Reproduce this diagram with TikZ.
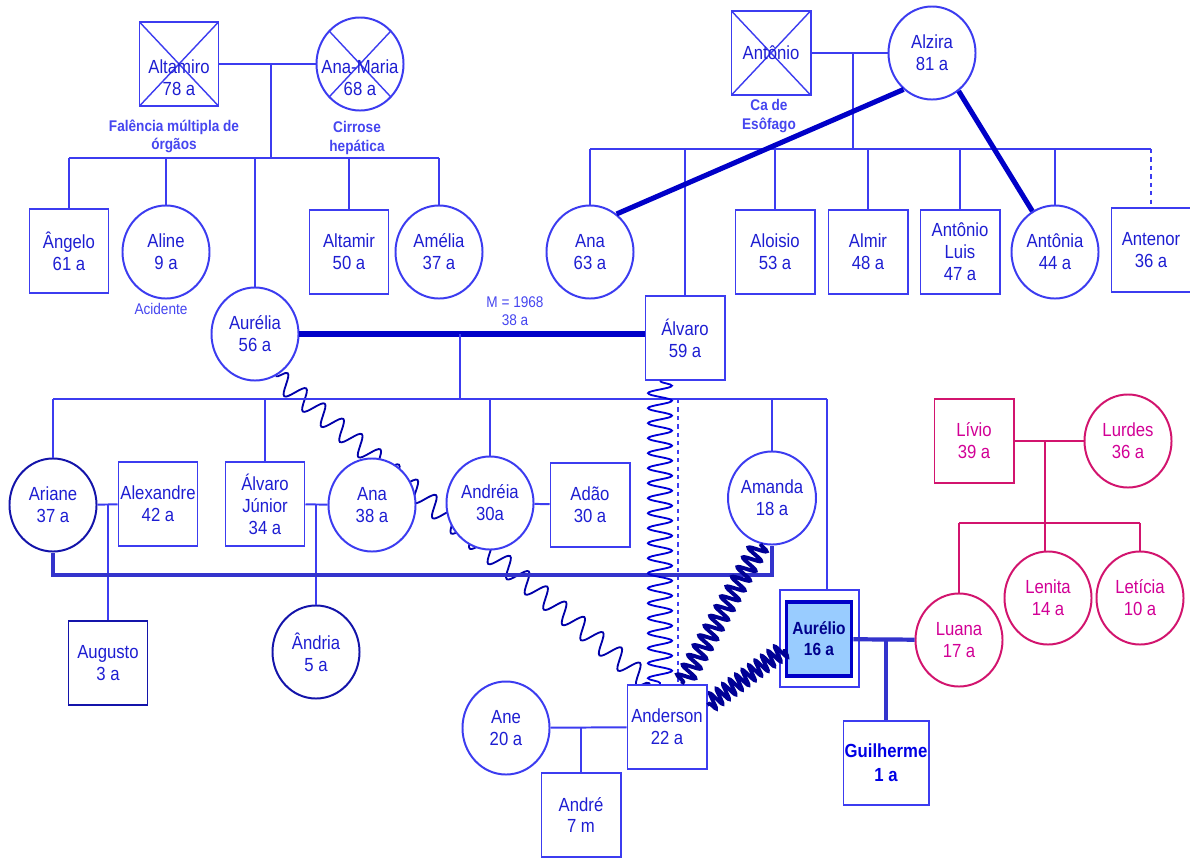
\documentclass[tikz,border=0pt]{standalone}
\usepackage{fontspec}
\setmainfont{Liberation Sans}[FakeStretch=0.88]
\usepackage{tikz}
\usetikzlibrary{shapes.geometric,decorations.pathmorphing,backgrounds}
\definecolor{linecol}{RGB}{60,60,240}
\definecolor{txtcol}{RGB}{30,30,210}
\definecolor{notecol}{RGB}{70,70,240}
\definecolor{navy}{RGB}{0,0,200}
\definecolor{deep}{RGB}{20,20,170}
\definecolor{kincol}{RGB}{51,51,204}
\definecolor{skyfill}{RGB}{153,204,255}
\definecolor{rose}{RGB}{210,20,110}
\definecolor{rosetxt}{RGB}{210,0,150}
\newcommand{\lowtext}[1]{\raisebox{-0.775cm}[0pt][0pt]{\begin{tabular}[b]{@{}c@{}}#1\end{tabular}}}

\begin{document}
\begin{tikzpicture}[x=0.025cm,y=-0.025cm,
  person/.style={draw=linecol,fill=white,line width=1.4pt,inner sep=0pt,align=center,text=txtcol,font=\fontsize{13.5}{15.6}\selectfont},
  male/.style={person,rectangle,minimum width=1.975cm,minimum height=2.1cm},
  female/.style={person,ellipse,minimum width=2.175cm,minimum height=2.325cm},
  dead/.style={path picture={\draw[linecol,line width=1pt] (path picture bounding box.north west) -- (path picture bounding box.south east) (path picture bounding box.north east) -- (path picture bounding box.south west);}},
  dark/.style={draw=deep},
  rosy/.style={draw=rose,text=rosetxt},
  tie/.style={linecol,line width=1.4pt},
  rosetie/.style={rose,line width=1.4pt},
  bond/.style={navy,line width=3.6pt},
  kin/.style={kincol,line width=3pt},
  note/.style={text=notecol,font=\fontsize{11}{13}\selectfont\bfseries,align=center},
  small/.style={text=notecol,font=\fontsize{11}{12.5}\selectfont,align=center}]
\useasboundingbox (0,0) rectangle (1190,857);

\node[male,dead] (Altamiro) at (179,64) {\lowtext{Altamiro\\78 a}};
\node[female,dead] (AnaMaria) at (360,64) {\lowtext{\makebox[0pt]{Ana-Maria}\\68 a}};
\node[note] (obito1) at (174,136) {Falência múltipla de\\órgãos};
\node[note] (obito2) at (357,138) {Cirrose\\hepática};
\node[male] (Angelo) at (69,251) {Ângelo\\61 a};
\node[female] (Aline) at (166,252) {Aline\\9 a};
\node[small] (acid) at (161,309) {Acidente};
\node[female] (Aurelia) at (255,334) {Aurélia\\56 a};
\node[male] (Altamir) at (349,252) {Altamir\\50 a};
\node[female] (Amelia) at (439,252) {Amélia\\37 a};

\node[male,dead] (Antonio) at (771,53) {Antônio};
\node[female] (Alzira) at (932,53) {Alzira\\81 a};
\node[note] (obito3) at (769,116) {Ca de\\Esôfago};
\node[female] (Ana) at (590,252) {Ana\\63 a};
\node[male] (Alvaro) at (685,338) {Álvaro\\59 a};
\node[male] (Aloisio) at (775,252) {Aloisio\\53 a};
\node[male] (Almir) at (868,252) {Almir\\48 a};
\node[male] (AntLuis) at (960,252) {Antônio\\Luis\\47 a};
\node[female] (Antonia) at (1055,252) {Antônia\\44 a};
\node[male] (Antenor) at (1151,250) {Antenor\\36 a};

\node[small] (casam) at (515,311) {M = 1968\\38 a};

\node[female,dark] (Ariane) at (53,505) {Ariane\\37 a};
\node[male] (Alexandre) at (158,504) {\makebox[0pt]{Alexandre}\\42 a};
\node[male] (AlvaroJr) at (265,504) {Álvaro\\Júnior\\34 a};
\node[female] (AnaB) at (372,505) {Ana\\38 a};
\node[female] (Andreia) at (490,503) {Andréia\\30a};
\node[male] (Adao) at (590,505) {Adão\\30 a};
\node[female] (Amanda) at (772,498) {Amanda\\18 a};
\node[male,draw=navy,line width=2.6pt,fill=skyfill,minimum width=1.625cm,minimum height=1.85cm,text=navy!70!black,font=\fontsize{12.5}{15}\selectfont\bfseries] (Aurelio) at (819,639) {Aurélio\\16 a};
\node[male] (Anderson) at (667,727) {Anderson\\22 a};
\node[female] (Ane) at (506,728) {Ane\\20 a};
\node[male] (Andre) at (581,815) {André\\7 m};
\node[male,dark] (Augusto) at (108,663) {Augusto\\3 a};
\node[female,dark] (Andria) at (316,652) {Ândria\\5 a};
\node[male,minimum width=2.125cm,text=blue!90!black,font=\fontsize{13.5}{17}\selectfont\bfseries] (Guilherme) at (886,763) {Guilherme\\1 a};

\node[male,rosy] (Livio) at (974,441) {Lívio\\39 a};
\node[female,rosy] (Lurdes) at (1128,441) {Lurdes\\36 a};
\node[female,rosy] (Lenita) at (1048,598) {Lenita\\14 a};
\node[female,rosy] (Leticia) at (1140,598) {Letícia\\10 a};
\node[female,rosy] (Luana) at (959,640) {Luana\\17 a};

\coordinate (s1) at (271,158);
\coordinate (s2) at (853,149);
\coordinate (s3) at (460,399);
\coordinate (s3r) at (827,399);
\coordinate (s4) at (1045,523);
\coordinate (low) at (400,575);

\draw[tie] (Altamiro) -- (AnaMaria);
\draw[tie] (s1 |- Altamiro) -- (s1);
\draw[tie] (Angelo |- s1) -- (Amelia |- s1);
\foreach \n in {Angelo,Aline,Aurelia,Altamir,Amelia}
  \draw[tie] (\n |- s1) -- (\n.north);

\draw[tie] (Antonio) -- (Alzira);
\draw[tie] (s2 |- Alzira) -- (s2);
\draw[tie] (Ana |- s2) -- (Antenor |- s2);
\foreach \n in {Ana,Alvaro,Aloisio,Almir,AntLuis,Antonia}
  \draw[tie] (\n |- s2) -- (\n.north);
\draw[tie,dashed] (Antenor |- s2) -- (Antenor.north);
\draw[bond] (Alzira.-128) -- (Ana.55);
\draw[bond] (Alzira.-55) -- (Antonia.119);

\draw[bond] (Aurelia.east) -- (Aurelia.east -| Alvaro.west);
\draw[tie] (s3 |- Aurelia) -- (s3);
\draw[tie] (Ariane |- s3) -- (s3r);
\foreach \n in {Ariane,AlvaroJr,Andreia,Amanda}
  \draw[tie] (\n |- s3) -- (\n.north);
\draw[tie] ([shift={(-0.125cm,0.25cm)}]Aurelio.north west) coordinate (aurtop) rectangle ([shift={(0.15cm,-0.225cm)}]Aurelio.south east);
\draw[tie] (s3r) -- (s3r |- aurtop);
\draw[tie,dashed] ([xshift=0.275cm]Anderson.north |- s3) -- ([xshift=0.275cm]Anderson.north);

\draw[tie] (Ariane) -- (Alexandre);
\draw[tie] (Augusto |- Ariane) -- (Augusto.north);
\draw[tie] (AlvaroJr) -- (AnaB);
\draw[tie] (Andria |- AnaB) -- (Andria.north);
\draw[tie] (Andreia) -- (Adao);
\draw[tie] (Ane) -- (Anderson);
\draw[tie] (Andre |- Ane) -- (Andre.north);

\draw[kin] (Ariane.south) |- (Amanda.south |- low) -- (Amanda.south);
\draw[kin] (Aurelio) -- (Luana);
\draw[kin] (Guilherme |- Luana) -- (Guilherme.north);

\draw[rosetie] (Livio) -- (Lurdes);
\draw[rosetie] (s4 |- Livio) -- (s4 |- Lenita.north);
\draw[rosetie] (Luana |- s4) -- (Leticia |- s4);
\foreach \n in {Luana,Leticia}
  \draw[rosetie] (\n |- s4) -- (\n.north);

\begin{pgfonlayer}{background}
\fill[white] (0,0) rectangle (1190,857);
\draw[navy!85!black,line width=1.3pt,decorate,decoration={snake,amplitude=0.25cm,segment length=0.6cm}] (Aurelia.-64) -- ([xshift=-0.425cm]Anderson.north);
\end{pgfonlayer}
\draw[blue!85!black,line width=1.3pt,decorate,decoration={snake,amplitude=0.3cm,segment length=0.375cm}] ([xshift=-0.625cm]Alvaro.south) -- ([xshift=-0.175cm]Anderson.north);
\draw[navy!75!black,line width=2.8pt,decorate,decoration={snake,amplitude=0.22cm,segment length=0.28cm}] (Amanda.-104) -- ([xshift=0.375cm]Anderson.north);
\draw[navy!75!black,line width=2.6pt,decorate,decoration={snake,amplitude=0.2cm,segment length=0.2cm}] ([yshift=-0.25cm]Aurelio.west) -- ([yshift=0.55cm]Anderson.east);
\end{tikzpicture}
\end{document}
